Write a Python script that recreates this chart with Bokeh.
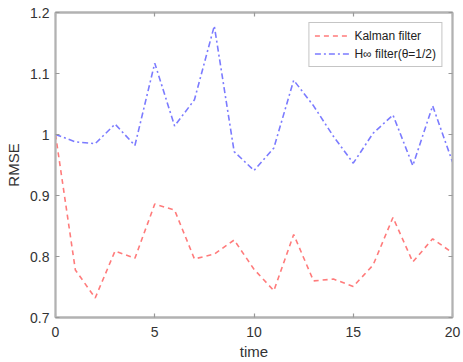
from bokeh.plotting import figure
from bokeh.models import Range1d, FixedTicker, LinearAxis, CustomJSTickFormatter, Legend, LegendItem
from bokeh.embed import file_html
from bokeh.resources import INLINE

time = list(range(21))
kalman = [1.0, 0.778, 0.732, 0.809, 0.797, 0.886, 0.876, 0.796, 0.804, 0.827, 0.779,
          0.744, 0.836, 0.760, 0.763, 0.751, 0.786, 0.864, 0.791, 0.829, 0.806]
hinf = [1.0, 0.988, 0.985, 1.017, 0.982, 1.117, 1.014, 1.057, 1.178, 0.972, 0.941,
        0.978, 1.089, 1.047, 0.997, 0.953, 1.002, 1.032, 0.949, 1.047, 0.955]
x_ticks = [0, 5, 10, 15, 20]
y_ticks = [0.7, 0.8, 0.9, 1.0, 1.1, 1.2]
labels = ["Kalman filter", "H\u221e filter(\u03b8=1/2)"]

FONT = "Liberation Sans"
AXC = "#b2b2b2"
TKC = "#999999"
TXC = "#333333"

p = figure(width=463, height=362, output_backend="svg", toolbar_location=None,
           x_range=Range1d(0, 20), y_range=Range1d(0.7, 1.2),
           min_border_left=55, min_border_top=12, min_border_right=11, min_border_bottom=45)
p.grid.visible = False
p.outline_line_color = AXC
p.outline_line_width = 1.8
p.background_fill_color = "white"

fmt = CustomJSTickFormatter(code="return String(Math.round(tick*10)/10);")
blank = CustomJSTickFormatter(code="return '';")

def style(ax):
    ax.axis_line_color = AXC
    ax.axis_line_width = 1.8
    ax.major_tick_line_color = TKC
    ax.major_tick_line_width = 1.2
    ax.major_tick_in = 4
    ax.major_tick_out = 0
    ax.minor_tick_line_color = None
    ax.major_label_text_font = FONT
    ax.major_label_text_color = TXC
    ax.major_label_text_font_size = "14px"
    ax.axis_label_text_font = FONT
    ax.axis_label_text_color = TXC
    ax.axis_label_text_font_style = "normal"
    ax.axis_label_text_font_size = "15px"

p.xaxis.ticker = FixedTicker(ticks=x_ticks)
p.yaxis.ticker = FixedTicker(ticks=y_ticks)
p.yaxis.formatter = fmt
p.xaxis.axis_label = "time"
p.yaxis.axis_label = "RMSE"
style(p.xaxis[0])
style(p.yaxis[0])
p.xaxis.major_label_standoff = 9
p.yaxis.major_label_standoff = 6
p.xaxis.axis_label_standoff = 3
p.yaxis.axis_label_standoff = 5

top = LinearAxis(ticker=FixedTicker(ticks=x_ticks), formatter=blank, major_label_standoff=0)
right = LinearAxis(ticker=FixedTicker(ticks=y_ticks), formatter=blank, major_label_standoff=0)
style(top)
style(right)
p.add_layout(top, "above")
p.add_layout(right, "right")

r1 = p.line(time, kalman, line_color="#ff7b7b", line_width=1.6, line_dash="5 4")
r2 = p.line(time, hinf, line_color="#7b7bff", line_width=1.6, line_dash="6 3 2 3")

legend = Legend(items=[LegendItem(label=labels[0], renderers=[r1]),
                       LegendItem(label=labels[1], renderers=[r2])],
                location="top_right")
legend.label_text_font = FONT
legend.label_text_font_size = "12px"
legend.label_text_color = "#222222"
legend.border_line_color = "#8c8c8c"
legend.border_line_width = 1.4
legend.glyph_width = 36
legend.glyph_height = 15
legend.label_height = 15
legend.spacing = 3
legend.padding = 5
legend.margin = 10
legend.label_standoff = 4
p.add_layout(legend)

open("out.html", "w").write(file_html(p, INLINE))
